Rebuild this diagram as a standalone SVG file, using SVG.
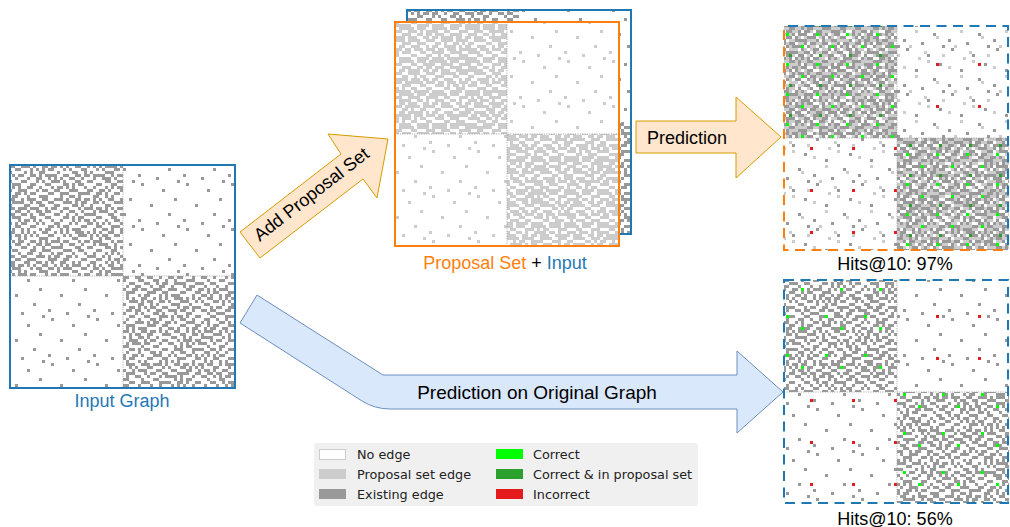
<svg xmlns="http://www.w3.org/2000/svg" width="1010" height="527" viewBox="0 0 1010 527">
<style>
.lbl{font-family:"Liberation Sans",Arial,sans-serif;font-size:18px;fill:#000}
.blue{fill:#1f77b4}
.orange{fill:#ff7f0e}
.leg{font-family:"DejaVu Sans",sans-serif;font-size:12.8px;fill:#222}
.div{stroke:#999;stroke-width:0.8;stroke-dasharray:1.2 1.2;fill:none}
.oarrow{fill:#ffe6cc;stroke:#d79b00;stroke-width:1}
.barrow{fill:#dae8fc;stroke:#6c8ebf;stroke-width:1}
</style>
<defs>
<path id="cA" d="M0 0h3v3h-3zM9 0h3v3h-3zM12 0h3v3h-3zM21 0h3v3h-3zM27 0h3v3h-3zM3 3h3v3h-3zM15 3h3v3h-3zM18 3h3v3h-3zM30 3h3v3h-3zM6 6h3v3h-3zM9 6h3v3h-3zM24 6h3v3h-3zM0 9h3v3h-3zM12 9h3v3h-3zM18 9h3v3h-3zM21 9h3v3h-3zM30 9h3v3h-3zM3 12h3v3h-3zM6 12h3v3h-3zM15 12h3v3h-3zM27 12h3v3h-3zM9 15h3v3h-3zM21 15h3v3h-3zM24 15h3v3h-3zM0 18h3v3h-3zM12 18h3v3h-3zM15 18h3v3h-3zM30 18h3v3h-3zM6 21h3v3h-3zM18 21h3v3h-3zM27 21h3v3h-3zM3 24h3v3h-3zM9 24h3v3h-3zM21 24h3v3h-3zM24 24h3v3h-3zM0 27h3v3h-3zM15 27h3v3h-3zM18 27h3v3h-3zM30 27h3v3h-3zM6 30h3v3h-3zM12 30h3v3h-3zM27 30h3v3h-3z"/>
<path id="cB" d="M18 0h3v3h-3zM6 3h3v3h-3zM24 3h3v3h-3zM15 6h3v3h-3zM3 9h3v3h-3zM12 12h3v3h-3zM21 12h3v3h-3zM0 15h3v3h-3zM9 18h3v3h-3zM24 18h3v3h-3zM18 21h3v3h-3zM3 24h3v3h-3zM12 24h3v3h-3z"/>
<path id="cS" d="M6 3h3v3h-3zM27 9h3v3h-3zM39 18h3v3h-3zM15 24h3v3h-3zM33 33h3v3h-3zM3 39h3v3h-3zM21 42h3v3h-3zM42 0h3v3h-3z"/>
<path id="cG" d="M6 3h3v3h-3zM21 15h3v3h-3z"/>
<path id="cD" d="M9 24h3v3h-3z"/>
<path id="cR" d="M12 21h3v3h-3z"/>
<pattern id="pAg" width="33" height="33" patternUnits="userSpaceOnUse"><use href="#cA" fill="#999"/></pattern>
<pattern id="pBg" width="27" height="27" patternUnits="userSpaceOnUse"><use href="#cB" fill="#999"/></pattern>
<pattern id="pSg" width="45" height="45" patternUnits="userSpaceOnUse"><use href="#cS" fill="#999"/></pattern>
<pattern id="pAl" width="33" height="33" patternUnits="userSpaceOnUse" patternTransform="translate(9 15)"><use href="#cA" fill="#ccc"/></pattern>
<pattern id="pBl" width="27" height="27" patternUnits="userSpaceOnUse" patternTransform="translate(6 12)"><use href="#cB" fill="#ccc"/></pattern>
<pattern id="pSl" width="45" height="45" patternUnits="userSpaceOnUse" patternTransform="translate(21 12)"><use href="#cS" fill="#ccc"/></pattern>
<pattern id="pAl2" width="33" height="33" patternUnits="userSpaceOnUse" patternTransform="translate(18 3)"><use href="#cA" fill="#ccc"/></pattern>
<pattern id="pGt" width="30" height="30" patternUnits="userSpaceOnUse"><use href="#cG" fill="#00ff00"/><use href="#cD" fill="#2ca02c"/></pattern>
<pattern id="pGb" width="39" height="39" patternUnits="userSpaceOnUse"><use href="#cG" fill="#00ff00"/></pattern>
<pattern id="pR" width="42" height="42" patternUnits="userSpaceOnUse"><use href="#cR" fill="#e41a1c"/></pattern>
</defs>
<rect width="1010" height="527" fill="#fff"/>

<g id="connectors">
<polygon class="oarrow" points="240,232 341,154 328,134 388,139 377,198 363,179 260,258"/>
<text class="lbl" transform="translate(315,199) rotate(-37.8)" text-anchor="middle">Add Proposal Set</text>
<polygon class="oarrow" points="636,121 736,121 736,97 781,137 736,178 736,153 636,153"/>
<text class="lbl" x="647" y="144">Prediction</text>
<path class="barrow" d="M257 295 L383 375 H737 V351 L783 392 L737 433 V409 H390 Q375 409 362 401 L240 323 Z"/>
<text class="lbl" x="537" y="399" text-anchor="middle" style="font-size:19px">Prediction on Original Graph</text>
</g>

<g id="input-graph">
<rect x="10" y="165" width="225" height="223" fill="#fff"/>
<rect x="10" y="165" width="113" height="111" fill="url(#pAg)"/>
<rect x="10" y="165" width="113" height="111" fill="url(#pBg)"/>
<rect x="123" y="276" width="112" height="112" fill="url(#pAg)"/>
<rect x="123" y="276" width="112" height="112" fill="url(#pBg)"/>
<rect x="123" y="165" width="112" height="111" fill="url(#pSg)"/>
<rect x="10" y="276" width="113" height="112" fill="url(#pSg)"/>
<line class="div" x1="123" y1="165" x2="123" y2="388"/>
<line class="div" x1="10" y1="276" x2="235" y2="276"/>
<rect x="10" y="165" width="225" height="223" fill="none" stroke="#1f77b4" stroke-width="2"/>
<text class="lbl blue" x="122" y="407" text-anchor="middle">Input Graph</text>
</g>

<g id="proposal-input">
<rect x="407" y="10" width="224" height="224" fill="#fff"/>
<rect x="407" y="10" width="112" height="112" fill="url(#pAg)"/>
<rect x="407" y="10" width="112" height="112" fill="url(#pBg)"/>
<rect x="519" y="122" width="112" height="112" fill="url(#pAg)"/>
<rect x="519" y="122" width="112" height="112" fill="url(#pBg)"/>
<rect x="519" y="10" width="112" height="112" fill="url(#pSg)"/>
<rect x="407" y="122" width="112" height="112" fill="url(#pSg)"/>
<rect x="407" y="10" width="224" height="224" fill="none" stroke="#1f77b4" stroke-width="2"/>
<rect x="395" y="22" width="224" height="224" fill="#fff"/>
<rect x="395" y="22" width="112" height="112" fill="url(#pAl)"/>
<rect x="395" y="22" width="112" height="112" fill="url(#pBl)"/>
<rect x="395" y="22" width="112" height="112" fill="url(#pAl2)"/>
<rect x="507" y="134" width="112" height="112" fill="url(#pAl)"/>
<rect x="507" y="134" width="112" height="112" fill="url(#pBl)"/>
<rect x="507" y="134" width="112" height="112" fill="url(#pAl2)"/>
<rect x="507" y="22" width="112" height="112" fill="url(#pSl)"/>
<rect x="395" y="134" width="112" height="112" fill="url(#pSl)"/>
<line class="div" x1="507" y1="22" x2="507" y2="246"/>
<line class="div" x1="395" y1="134" x2="619" y2="134"/>
<rect x="395" y="22" width="224" height="224" fill="none" stroke="#ff7f0e" stroke-width="2"/>
<text class="lbl" x="505" y="269" text-anchor="middle"><tspan class="orange">Proposal Set</tspan> + <tspan class="blue">Input</tspan></text>
</g>

<g id="prediction-proposal">
<rect x="784" y="26" width="225" height="224" fill="#fff"/>
<rect x="784" y="26" width="113" height="112" fill="url(#pAl)"/>
<rect x="784" y="26" width="113" height="112" fill="url(#pAl2)"/>
<rect x="784" y="26" width="113" height="112" fill="url(#pAg)"/>
<rect x="784" y="26" width="113" height="112" fill="url(#pBg)"/>
<rect x="784" y="26" width="113" height="112" fill="url(#pGt)"/>
<rect x="897" y="138" width="112" height="112" fill="url(#pAl)"/>
<rect x="897" y="138" width="112" height="112" fill="url(#pAl2)"/>
<rect x="897" y="138" width="112" height="112" fill="url(#pAg)"/>
<rect x="897" y="138" width="112" height="112" fill="url(#pBg)"/>
<rect x="897" y="138" width="112" height="112" fill="url(#pGt)"/>
<rect x="897" y="26" width="112" height="112" fill="url(#pSl)"/>
<rect x="897" y="26" width="112" height="112" fill="url(#pSg)"/>
<rect x="897" y="26" width="112" height="112" fill="url(#pR)"/>
<rect x="784" y="138" width="113" height="112" fill="url(#pSl)"/>
<rect x="784" y="138" width="113" height="112" fill="url(#pSg)"/>
<rect x="784" y="138" width="113" height="112" fill="url(#pR)"/>
<line class="div" x1="897" y1="26" x2="897" y2="250"/>
<line class="div" x1="784" y1="138" x2="1009" y2="138"/>
<path d="M788 26 H1008 V246" fill="none" stroke="#1f77b4" stroke-width="2" stroke-dasharray="10 6.5"/>
<path d="M784 30 V250 H1005" fill="none" stroke="#ff7f0e" stroke-width="2" stroke-dasharray="10 6.5"/>
<text class="lbl" x="895" y="270" text-anchor="middle">Hits@10: 97%</text>
</g>

<g id="prediction-original">
<rect x="784" y="280" width="225" height="223" fill="#fff"/>
<rect x="784" y="280" width="113" height="112" fill="url(#pAg)"/>
<rect x="784" y="280" width="113" height="112" fill="url(#pBg)"/>
<rect x="784" y="280" width="113" height="112" fill="url(#pGb)"/>
<rect x="897" y="392" width="112" height="111" fill="url(#pAg)"/>
<rect x="897" y="392" width="112" height="111" fill="url(#pBg)"/>
<rect x="897" y="392" width="112" height="111" fill="url(#pGb)"/>
<rect x="897" y="280" width="112" height="112" fill="url(#pSg)"/>
<rect x="897" y="280" width="112" height="112" fill="url(#pR)"/>
<rect x="784" y="392" width="113" height="111" fill="url(#pSg)"/>
<rect x="784" y="392" width="113" height="111" fill="url(#pR)"/>
<line class="div" x1="897" y1="280" x2="897" y2="503"/>
<line class="div" x1="784" y1="392" x2="1009" y2="392"/>
<rect x="784" y="280" width="224" height="223" fill="none" stroke="#1f77b4" stroke-width="2" stroke-dasharray="10 6.5"/>
<text class="lbl" x="895" y="525" text-anchor="middle">Hits@10: 56%</text>
</g>

<g id="legend">
<rect x="314" y="443" width="384" height="63" rx="3" fill="#f0f0f0"/>
<rect x="319.5" y="449.5" width="26" height="10" fill="#fff" stroke="#ccc"/>
<rect x="319" y="469" width="27" height="10" fill="#ccc"/>
<rect x="319" y="489" width="27" height="10" fill="#999"/>
<rect x="496" y="449" width="27" height="10" fill="#00ff00"/>
<rect x="496" y="469" width="27" height="10" fill="#2ca02c"/>
<rect x="496" y="489" width="27" height="10" fill="#e41a1c"/>
<text class="leg" x="357" y="458.5">No edge</text>
<text class="leg" x="357" y="478.5">Proposal set edge</text>
<text class="leg" x="357" y="498.5">Existing edge</text>
<text class="leg" x="533" y="458.5">Correct</text>
<text class="leg" x="533" y="478.5">Correct &amp; in proposal set</text>
<text class="leg" x="533" y="498.5">Incorrect</text>
</g>
</svg>
